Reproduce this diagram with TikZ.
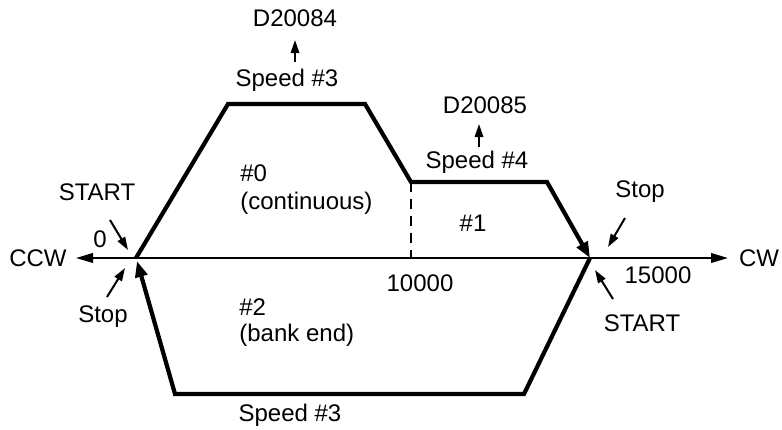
\documentclass[tikz,border=0pt]{standalone}
\usepackage{fontspec}
\setmainfont{Liberation Sans}
\usetikzlibrary{arrows.meta}
\begin{document}
\begin{tikzpicture}[x=0.5pt,y=-0.5pt,
  lbl/.style={font=\fontsize{12}{14}\selectfont, inner sep=0pt},
  prof/.style={line width=2.1pt, line join=miter},
  axisline/.style={line width=1pt,-{Triangle[length=8.5pt,width=4.8pt]}},
  ptr/.style={line width=1pt,-{Triangle[length=6.5pt,width=4.2pt]}}]
\useasboundingbox (0,0) rectangle (782,429);
% axis
\coordinate (O) at (136,258);
\coordinate (O2) at (137,261);
\coordinate (E) at (590,258);
\coordinate (L) at (76,258);
\coordinate (R) at (728,258);
\draw[axisline] (O) -- (L);
\draw[axisline] (O) -- (R);
% upper profile
\coordinate (a1) at (228,104);
\coordinate (a2) at (365,104);
\coordinate (a3) at (411,182);
\coordinate (a4) at (547,182);
\draw[prof,-{Triangle[length=8pt,width=6pt]}] (O) -- (a1) -- (a2) -- (a3) -- (a4) -- (E);
\draw[line width=1pt, dash pattern=on 5pt off 3.5pt] (a3) -- (a3 |- O);
% lower profile
\coordinate (b1) at (524,394);
\coordinate (b2) at (175,394);
\draw[prof,-{Triangle[length=8pt,width=6pt]}] (E) -- (b1) -- (b2) -- (O2);
% labels
\node[lbl] (ccw) at (38,258) {CCW};
\node[lbl] (cw) at (759,258) {CW};
\node[lbl] (d84) at (295,18) {D20084};
\node[lbl] (sp3) at (287,80) {Speed \#3};
\draw[ptr] (295,62) -- (295,40);
\node[lbl] (d85) at (485,105) {D20085};
\node[lbl] (sp4) at (477,162) {Speed \#4};
\draw[ptr] (479,147) -- (479,124);
\node[lbl,anchor=west] (n0) at (240,173) {\#0};
\node[lbl,anchor=west] (n0b) at (240,203) {(continuous)};
\node[lbl] (n1) at (473,223) {\#1};
\node[lbl] (t10) at (420,283) {10000};
\node[lbl,anchor=west] (n2) at (239,307) {\#2};
\node[lbl,anchor=west] (n2b) at (239,335) {(bank end)};
\node[lbl] (sp3b) at (290,415) {Speed \#3};
\node[lbl] (stL) at (97,192) {START};
\node[lbl] (zero) at (100,239) {0};
\node[lbl] (spL) at (103,317) {Stop};
\node[lbl] (spR) at (640,192) {Stop};
\node[lbl] (t15) at (658,275) {15000};
\node[lbl] (stR) at (642,323) {START};
\coordinate (p1) at (110,220); \coordinate (p1e) at (128,250);
\coordinate (p2) at (107,297); \coordinate (p2e) at (125,268);
\coordinate (p3) at (625,218); \coordinate (p3e) at (608,247);
\coordinate (p4) at (613,299); \coordinate (p4e) at (595,270);
\draw[ptr] (p1) -- (p1e);
\draw[ptr] (p2) -- (p2e);
\draw[ptr] (p3) -- (p3e);
\draw[ptr] (p4) -- (p4e);
\end{tikzpicture}
\end{document}
